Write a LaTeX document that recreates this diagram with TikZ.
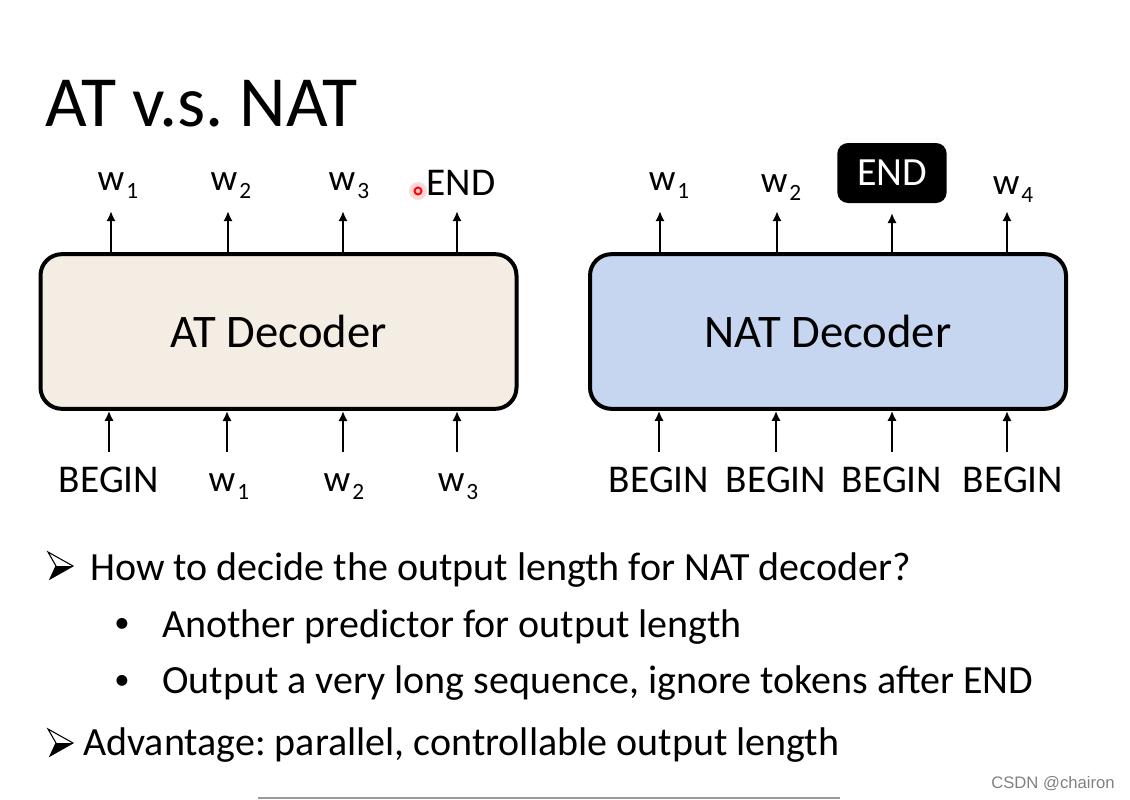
\documentclass[tikz,border=0pt]{standalone}
\usepackage{fontspec}
\setmainfont{Carlito}
\newfontfamily\markfont{Liberation Sans}
\usetikzlibrary{arrows.meta}
\definecolor{atfill}{HTML}{F4EDE3}
\definecolor{natfill}{HTML}{C6D5F0}
\newcommand{\tok}[1]{{\fontsize{28}{28}\selectfont w}\kern1.5pt\raisebox{-6pt}{\fontsize{17.5}{17.5}\selectfont #1}}
\newcommand{\fs}[1]{\fontsize{#1}{#1}\selectfont}
\frenchspacing

\begin{document}
\begin{tikzpicture}[x=.75pt,y=-.75pt,
    decoder/.style={draw,line width=3pt,rounded corners=16pt,minimum width=357pt,minimum height=116pt,font=\fs{35}},
    token/.style={font=\fs{29.5},anchor=base,inner sep=0pt},
    up/.style={line width=1.9pt,-{Latex[length=7.5pt,width=7pt]}},
    line/.style={font=\fs{30},anchor=base west,inner sep=0pt},
    bullet/.style={font=\fs{23},anchor=base,inner sep=0pt}]
    \useasboundingbox (0,0) rectangle (1130,799);
    \node[anchor=base west,inner sep=0pt,font=\fs{54}] (title) at (45,126) {AT v.s. NAT};
    \coordinate (inrow) at (0,452); % tails of the input arrows
    \coordinate (outrow) at (0,213); % tips of the output arrows
    % AT decoder
    \node[decoder,fill=atfill] (atdec) at (278.5,331.5) {AT Decoder};
    \node[token] (atin1) at (109,492) {BEGIN};
    \node[token] (atin2) at (229,491) {\tok{1}};
    \node[token] (atin3) at (344,491) {\tok{2}};
    \node[token] (atin4) at (458,491) {\tok{3}};
    \node[token] (atout1) at (118,190) {\tok{1}};
    \node[token] (atout2) at (231,190) {\tok{2}};
    \node[token] (atout3) at (349,190) {\tok{3}};
    \node[token] (atout4) at (461,195) {END};
    \draw[up] (atin1 |- inrow) -- (atin1 |- atdec.south);
    \draw[up] (atin2 |- inrow) ++(-2,0) -- ++(0,-41);
    \draw[up] (atin3 |- inrow) ++(-1,0) -- ++(0,-41);
    \draw[up] (atin4 |- inrow) ++(-1,0) -- ++(0,-41);
    \draw[up] (atout1 |- atdec.north) ++(-7,0) -- ++(0,-41);
    \draw[up] (atout2 |- atdec.north) ++(-3,0) -- ++(0,-41);
    \draw[up] (atout3 |- atdec.north) ++(-6,0) -- ++(0,-41);
    \draw[up] (atout4 |- atdec.north) ++(-4,0) -- ++(0,-41);
    \fill[red,opacity=.15] (418,191) circle[radius=9]; % pointer
    \draw[red,line width=1.4pt,fill=red!25] (418,191) circle[radius=3.5];
    % NAT decoder
    \node[decoder,fill=natfill] (natdec) at (828,331.5) {NAT Decoder};
    \node[token] (natin1) at (659,492) {BEGIN};
    \node[token] (natin2) at (776,492) {BEGIN};
    \node[token] (natin3) at (892,492) {BEGIN};
    \node[token] (natin4) at (1013,492) {BEGIN};
    \node[token] (natout1) at (669,190) {\tok{1}};
    \node[token] (natout2) at (781,192) {\tok{2}};
    \node[fill=black,text=white,rounded corners=8pt,minimum width=82pt,minimum height=45pt,font=\fs{30}] (natout3) at (892,173) {END};
    \node[token] (natout4) at (1013,194) {\tok{4}};
    \draw[up] (natin1 |- inrow) -- (natin1 |- natdec.south);
    \draw[up] (natin2 |- inrow) -- (natin2 |- natdec.south);
    \draw[up] (natin3 |- inrow) -- (natin3 |- natdec.south);
    \draw[up] (natin4 |- inrow) ++(-6,0) -- ++(0,-41);
    \draw[up] (natout1 |- natdec.north) ++(-9,0) -- ++(0,-41);
    \draw[up] (natout2 |- natdec.north) ++(-4,0) -- ++(0,-41);
    \draw[up] (natout3 |- natdec.north) -- (natout3 |- outrow);
    \draw[up] (natout4 |- natdec.north) ++(-6,0) -- ++(0,-41);
    % notes below
    \draw[line width=.8pt,fill=white] (48,552) -- (73,566) -- (50,579) -- (56,566) -- cycle; % arrowhead mark
    \fill (73,566) -- (50,579) -- (56,566) -- cycle;
    \node[line] (q) at (90,580) {How to decide the output length for NAT decoder?};
    \node[bullet] (dot1) at (122,632) {•};
    \node[line] (ans1) at (162,637) {Another predictor for output length};
    \node[bullet] (dot2) at (122,689) {•};
    \node[line] (ans2) at (162,693) {Output a very long sequence, ignore tokens after END};
    \draw[line width=.8pt,fill=white] (48,729) -- (73,743) -- (50,756) -- (56,743) -- cycle;
    \fill (73,743) -- (50,756) -- (56,743) -- cycle;
    \node[line] (adv) at (83,755) {Advantage: parallel, controllable output length};
    \draw[gray!80,line width=2.2pt] (258,798) -- (840,798);
    \node[anchor=base east,inner sep=0pt,text=gray,font=\markfont\fs{12.5}] (mark) at (1115,788) {CSDN @chairon};
\end{tikzpicture}
\end{document}
